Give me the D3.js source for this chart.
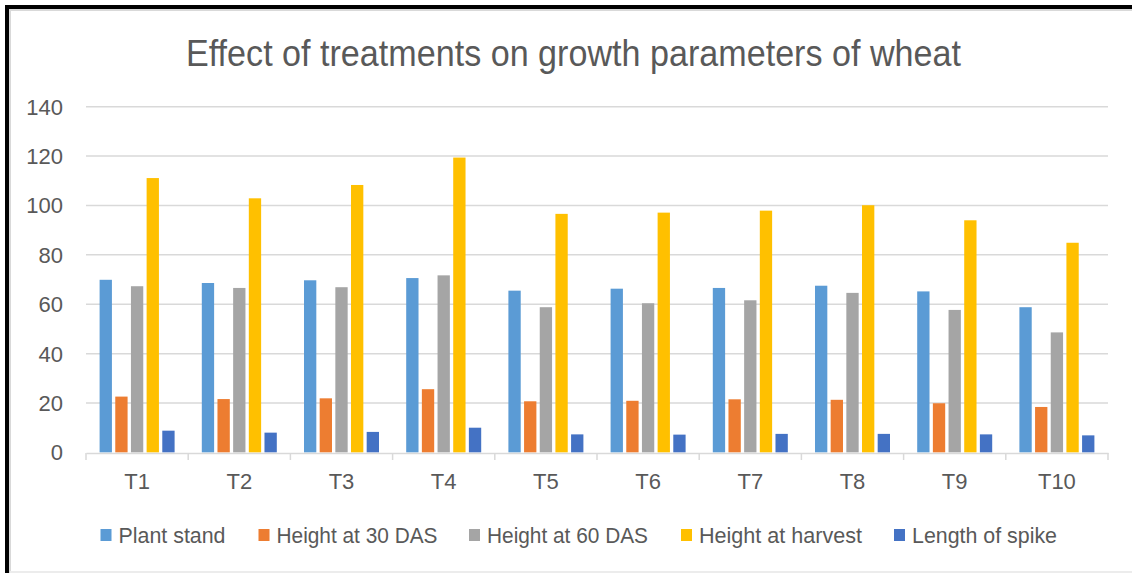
<!DOCTYPE html>
<html>
<head>
<meta charset="utf-8">
<script src="https://cdn.jsdelivr.net/npm/d3@7"></script>
<style>
  body { margin: 0; background: #fff; }
  svg text { font-family: "Liberation Sans", Arial, sans-serif; fill: #595959; }
</style>
</head>
<body>
<div id="chart"></div>
<script>
// data
const categories = ["T1", "T2", "T3", "T4", "T5", "T6", "T7", "T8", "T9", "T10"];
const seriesNames = ["Plant stand", "Height at 30 DAS", "Height at 60 DAS", "Height at harvest", "Length of spike"];
const plantStand = [69.9, 68.6, 69.7, 70.6, 65.5, 66.3, 66.6, 67.5, 65.2, 58.8];
const height30 = [22.6, 21.6, 21.9, 25.6, 20.7, 20.9, 21.5, 21.3, 19.9, 18.4];
const height60 = [67.3, 66.6, 66.9, 71.7, 58.8, 60.4, 61.6, 64.6, 57.7, 48.6];
const heightHarvest = [111.1, 102.9, 108.3, 119.4, 96.6, 97.1, 97.9, 100.1, 94.0, 84.9];
const spikeLength = [8.8, 8.0, 8.3, 10.0, 7.3, 7.2, 7.5, 7.5, 7.3, 6.9];
const yTicks = [0, 20, 40, 60, 80, 100, 120, 140];

const seriesValues = [plantStand, height30, height60, heightHarvest, spikeLength];
const colors = ["#5B9BD5", "#ED7D31", "#A5A5A5", "#FFC000", "#4472C4"];

const width = 1132, height = 573;
const margin = { left: 86, right: 24, top: 106.7, bottom: 120.6 };

const svg = d3.select("#chart").append("svg")
    .attr("width", width)
    .attr("height", height);

// frame: black on top/left, light grey inner line
svg.append("rect").attr("x", 0).attr("y", 0).attr("width", width).attr("height", height).attr("fill", "#fff");
svg.append("path")
    .attr("d", "M7,573 V7 H1132")
    .attr("fill", "none").attr("stroke", "#000").attr("stroke-width", 4);
svg.append("path")
    .attr("d", "M10,573 V10 H1132")
    .attr("fill", "none").attr("stroke", "#d9d9d9").attr("stroke-width", 2);
svg.append("line")
    .attr("x1", 10).attr("x2", 1132).attr("y1", 572).attr("y2", 572)
    .attr("stroke", "#ececec").attr("stroke-width", 2);

// title
svg.append("text")
    .attr("x", 573.5).attr("y", 66)
    .attr("text-anchor", "middle")
    .attr("font-size", 36)
    .attr("textLength", 775)
    .attr("lengthAdjust", "spacingAndGlyphs")
    .text("Effect of treatments on growth parameters of wheat");

// scales
let x0 = d3.scaleBand()
    .domain(categories)
    .range([86, 1108])
    .padding(0);

let bw = x0.bandwidth();
let x1 = d3.scaleBand()
    .domain(seriesNames)
    .range([bw / 2 - 37.5, bw / 2 + 37.5])
    .paddingInner(0.214)
    .paddingOuter(0);

let y = d3.scaleLinear()
    .domain([0, 140])
    .range([452.4, 106.7]);

// gridlines
svg.append("g")
    .selectAll("line")
    .data(yTicks.filter(d => d > 0))
    .enter().append("line")
    .attr("x1", 86).attr("x2", 1108)
    .attr("y1", d => y(d)).attr("y2", d => y(d))
    .attr("stroke", "#d9d9d9").attr("stroke-width", 1.5);

// y labels
svg.append("g")
    .selectAll("text")
    .data(yTicks)
    .enter().append("text")
    .attr("x", 63)
    .attr("y", d => y(d))
    .attr("dy", "0.36em")
    .attr("text-anchor", "end")
    .attr("font-size", 22)
    .text(d => d);

// bars
let groups = svg.append("g")
    .selectAll("g")
    .data(categories)
    .enter().append("g")
    .attr("transform", d => "translate(" + x0(d) + ",0)");

groups.selectAll("rect")
    .data((c, i) => seriesNames.map((s, j) => ({ s: s, j: j, v: seriesValues[j][i] })))
    .enter().append("rect")
    .attr("x", d => x1(d.s))
    .attr("width", x1.bandwidth())
    .attr("y", d => y(d.v))
    .attr("height", d => y(0) - y(d.v))
    .attr("fill", d => colors[d.j]);

// x axis line + ticks
let xAxis = d3.axisBottom(x0).tickSize(0).tickPadding(20);
let gx = svg.append("g")
    .attr("transform", "translate(0," + 453 + ")")
    .call(xAxis);
gx.select(".domain").attr("stroke", "#d9d9d9").attr("stroke-width", 1.5);
gx.selectAll("text")
    .attr("font-size", 22)
    .attr("font-family", "Liberation Sans, Arial, sans-serif")
    .attr("fill", "#595959")
    .attr("y", 36)
    .attr("dy", 0);

svg.append("g")
    .selectAll("line")
    .data(categories.map(c => x0(c)).concat([1108]))
    .enter().append("line")
    .attr("x1", d => d).attr("x2", d => d)
    .attr("y1", 453).attr("y2", 460)
    .attr("stroke", "#d9d9d9").attr("stroke-width", 1.5);

// legend
const legendX = [100.5, 258.5, 469, 681, 894];
const legendW = [107, 161, 161, 163, 145];
let lg = svg.append("g")
    .selectAll("g")
    .data(seriesNames)
    .enter().append("g")
    .attr("transform", (d, i) => "translate(" + legendX[i] + ",0)");
lg.append("rect")
    .attr("x", 0).attr("y", 529)
    .attr("width", 11).attr("height", 12)
    .attr("fill", (d, i) => colors[i]);
lg.append("text")
    .attr("x", 18).attr("y", 542.5)
    .attr("font-size", 22)
    .attr("textLength", (d, i) => legendW[i])
    .attr("lengthAdjust", "spacingAndGlyphs")
    .text(d => d);
</script>
</body>
</html>
